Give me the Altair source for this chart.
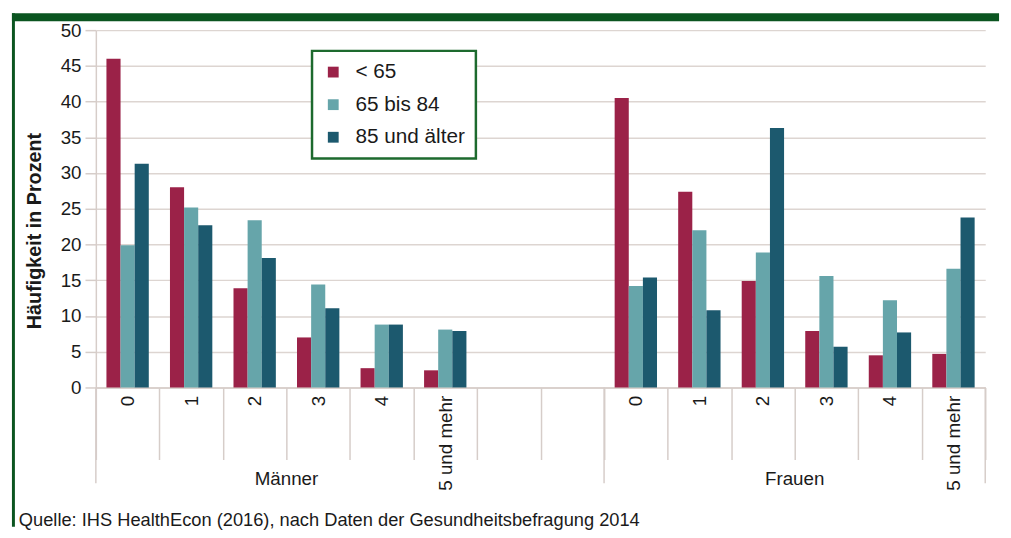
import altair as alt
import pandas as pd

# ---------------- data ----------------
categories = ["0", "1", "2", "3", "4", "5 und mehr"]
groups = ["Männer", "Frauen"]
group_codes = ["M", "F"]
series = ["< 65", "65 bis 84", "85 und älter"]
colors = ["#9b2248", "#66a5aa", "#1c596e"]

maenner_u65 = [46.0, 28.0, 13.9, 7.0, 2.7, 2.4]
maenner_65_84 = [19.9, 25.2, 23.4, 14.4, 8.8, 8.1]
maenner_85plus = [31.3, 22.7, 18.1, 11.1, 8.8, 7.9]
frauen_u65 = [40.5, 27.4, 14.9, 7.9, 4.5, 4.7]
frauen_65_84 = [14.2, 22.0, 18.9, 15.6, 12.2, 16.6]
frauen_85plus = [15.4, 10.8, 36.3, 5.7, 7.7, 23.8]

y_ticks = [0, 5, 10, 15, 20, 25, 30, 35, 40, 45, 50]
y_title = "Häufigkeit in Prozent"
source_note = "Quelle: IHS HealthEcon (2016), nach Daten der Gesundheitsbefragung 2014"

FONT = "Liberation Sans, Arial, Helvetica, sans-serif"
LINE = "#d6cdc9"
GREEN_BAR = "#0b5520"
GREEN_BOX = "#1d6a2e"

# ---------------- build table ----------------
values = {
    "M": [maenner_u65, maenner_65_84, maenner_85plus],
    "F": [frauen_u65, frauen_65_84, frauen_85plus],
}
rows = []
for code in group_codes:
    for s_idx, s in enumerate(series):
        for c_idx, c in enumerate(categories):
            rows.append({"key": f"{code}|{c}", "series": s, "value": values[code][s_idx][c_idx]})
df = pd.DataFrame(rows)

domain = [f"M|{c}" for c in categories] + ["gap1|", "gap2|"] + [f"F|{c}" for c in categories]

x_scale = alt.Scale(domain=domain, paddingInner=0, paddingOuter=0)

bars = alt.Chart(df).mark_bar().encode(
    x=alt.X(
        "key:N",
        scale=x_scale,
        sort=domain,
        title=None,
        axis=alt.Axis(
            labelAngle=270,
            labelAlign="right",
            labelBaseline="middle",
            labelFontSize=19,
            labelPadding=-65,
            labelColor="#1a1a1a",
            labelOverlap=False,
            labelExpr="split(datum.value, '|')[1]",
            tickBand="extent",
            tickSize=73,
            tickColor=LINE,
            tickWidth=1.5,
            domainColor=LINE,
            domainWidth=1.5,
        ),
    ),
    xOffset=alt.XOffset("series:N", sort=series,
                        scale=alt.Scale(domain=series, paddingInner=0, paddingOuter=0.75)),
    y=alt.Y(
        "value:Q",
        scale=alt.Scale(domain=[0, 50]),
        title=y_title,
        axis=alt.Axis(
            values=y_ticks,
            labelFontSize=19,
            labelColor="#1a1a1a",
            labelPadding=4,
            tickSize=11,
            tickColor=LINE,
            tickWidth=1.5,
            domainColor=LINE,
            domainWidth=1.5,
            gridColor="#ddd5d1",
            gridWidth=1.5,
            titleFontSize=20,
            titleFontWeight="bold",
            titleColor="#1a1a1a",
            titleX=-52,
            titleY=203,
        ),
    ),
    color=alt.Color(
        "series:N",
        sort=series,
        scale=alt.Scale(domain=series, range=colors),
        legend=alt.Legend(
            title=None,
            orient="none",
            legendX=219,
            legendY=21,
            direction="vertical",
            symbolType="square",
            symbolSize=120,
            symbolStrokeWidth=0,
            labelFontSize=21,
            labelColor="#1a1a1a",
            labelOffset=12,
            rowPadding=11,
            padding=11,
            fillColor="white",
            strokeColor=GREEN_BOX,
        ),
    ),
)

# long separators of the two-level category axis
left_edges = pd.DataFrame({"key": ["M|0", "F|0"]})
right_edges = pd.DataFrame({"key": [f"F|{categories[-1]}"]})

rules_left = alt.Chart(left_edges).mark_rule(color=LINE, strokeWidth=1.5).encode(
    x=alt.X("key:N", scale=x_scale, bandPosition=0),
    y=alt.value(362),
    y2=alt.value(459),
)
rules_right = alt.Chart(right_edges).mark_rule(color=LINE, strokeWidth=1.5).encode(
    x=alt.X("key:N", scale=x_scale, bandPosition=1),
    y=alt.value(362),
    y2=alt.value(459),
)

group_df = pd.DataFrame({"group": groups, "key": [f"{c}|{categories[3]}" for c in group_codes]})
group_text = alt.Chart(group_df).mark_text(
    fontSize=19, font=FONT, color="#1a1a1a", baseline="middle", align="center"
).encode(
    x=alt.X("key:N", scale=x_scale, bandPosition=0),
    y=alt.value(455),
    text="group:N",
)

note_text = alt.Chart(pd.DataFrame({"t": [source_note]})).mark_text(
    fontSize=18.5, font=FONT, color="#1a1a1a", align="left", baseline="middle"
).encode(
    x=alt.value(-78),
    y=alt.value(496),
    text="t:N",
)

# frame: dark green top bar and thin green left line
one = pd.DataFrame({"k": [0]})
frame_top = alt.Chart(one).mark_rule(color=GREEN_BAR, strokeWidth=8).encode(
    x=alt.value(-85), x2=alt.value(915), y=alt.value(-13)
)
frame_left = alt.Chart(one).mark_rule(color=GREEN_BAR, strokeWidth=3).encode(
    x=alt.value(-83.5), y=alt.value(-17), y2=alt.value(503)
)

chart = (
    alt.layer(frame_top, frame_left, bars, rules_left, rules_right, group_text, note_text)
    .properties(width=901, height=362, padding=0)
    .configure_view(strokeWidth=0)
    .configure_axis(labelFont=FONT, titleFont=FONT)
    .configure_legend(labelFont=FONT, strokeWidth=2.5)
)

chart.save("out.html", embed_options={"renderer": "svg", "actions": False})
